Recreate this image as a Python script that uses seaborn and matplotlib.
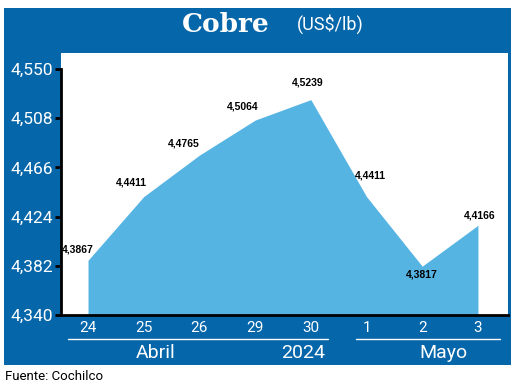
import numpy as np
import pandas as pd
import seaborn as sns
import matplotlib.pyplot as plt
from matplotlib.patches import Rectangle
from matplotlib.lines import Line2D

# copper price, US$/lb (Cochilco)
days = ['24', '25', '26', '29', '30', '1', '2', '3']
prices = [4.3867, 4.4411, 4.4765, 4.5064, 4.5239, 4.4411, 4.3817, 4.4166]
price_labels = ['4,3867', '4,4411', '4,4765', '4,5064', '4,5239', '4,4411', '4,3817', '4,4166']
y_ticks = [4.340, 4.382, 4.424, 4.466, 4.508, 4.550]
y_tick_labels = ['4,340', '4,382', '4,424', '4,466', '4,508', '4,550']

df = pd.DataFrame({'pos': np.arange(len(days)), 'price': prices})

sns.set_style('white')
plt.rcParams['font.family'] = ['Roboto', 'DejaVu Sans']

dark_blue = '#0566aa'
light_blue = '#56b4e3'

fig = plt.figure(figsize=(5.2, 3.87), dpi=100)
fig.patch.set_facecolor('white')
# blue frame behind the chart
fig.patches.append(Rectangle((4 / 520, 1 - 365 / 387), 507 / 520, 357 / 387,
                             transform=fig.transFigure, facecolor=dark_blue,
                             edgecolor='none', zorder=-10))

ax = fig.add_axes([61 / 520, 1 - 315 / 387, 447 / 520, 262 / 387])
ax.set_zorder(1)
ax.set_facecolor('white')

sns.lineplot(data=df, x='pos', y='price', ax=ax, color=light_blue, linewidth=0)
ax.fill_between(df['pos'], 4.34, df['price'], color=light_blue, linewidth=0, zorder=2)

ax.set_xlim(-0.485, 7.54)
ax.set_ylim(4.34, 4.5637)
ax.set_yticks(y_ticks)
ax.set_yticklabels(y_tick_labels)
ax.set_xticks(df['pos'])
ax.set_xticklabels(days)
ax.set_xlabel('')
ax.set_ylabel('')

for s in ['top', 'right']:
    ax.spines[s].set_visible(False)
for s in ['left', 'bottom']:
    ax.spines[s].set_color('black')
    ax.spines[s].set_linewidth(2)
    ax.spines[s].set_zorder(5)
ax.spines['left'].set_bounds(4.34, 4.55)

ax.tick_params(axis='y', length=4, width=2, color='black', labelcolor='white',
               labelsize=12.5, pad=1.5, left=True)
ax.tick_params(axis='x', length=0, labelcolor='white', labelsize=11, pad=4)

# value labels (offsets in points from each point)
offsets = [(-7, 7.5), (-9, 10.5), (-11, 8.5), (-9, 9.5), (-2, 12.5), (3, 15), (0, -6), (1, 7)]
for i, (lab, off) in enumerate(zip(price_labels, offsets)):
    ax.annotate(lab, (df['pos'][i], df['price'][i]), xytext=off,
                textcoords='offset points', ha='center', va='center',
                fontsize=7.5, fontweight='bold',
                family=['Liberation Sans', 'DejaVu Sans'],
                color='black', zorder=6)

# title
fig.text(226 / 520, 1 - 24 / 387, 'Cobre', color='white', fontsize=19,
         fontweight='bold', family=['DejaVu Serif'],
         ha='center', va='center')
fig.text(330 / 520, 1 - 24 / 387, '(US$/lb)', color='white', fontsize=13,
         ha='center', va='center')

# month groups under the x axis
fig.lines.append(Line2D([68 / 520, 328 / 520], [1 - 339 / 387] * 2,
                        transform=fig.transFigure, color='white', linewidth=1))
fig.lines.append(Line2D([356 / 520, 500 / 520], [1 - 339 / 387] * 2,
                        transform=fig.transFigure, color='white', linewidth=1))
fig.text(156 / 520, 1 - 353 / 387, 'Abril', color='white', fontsize=14,
         ha='center', va='center')
fig.text(303 / 520, 1 - 353 / 387, '2024', color='white', fontsize=14,
         ha='center', va='center')
fig.text(443 / 520, 1 - 353 / 387, 'Mayo', color='white', fontsize=14,
         ha='center', va='center')

fig.text(5 / 520, 1 - 377 / 387, 'Fuente: Cochilco', color='black', fontsize=9.5,
         ha='left', va='center')

plt.savefig('out.png', dpi=100)
plt.close()
